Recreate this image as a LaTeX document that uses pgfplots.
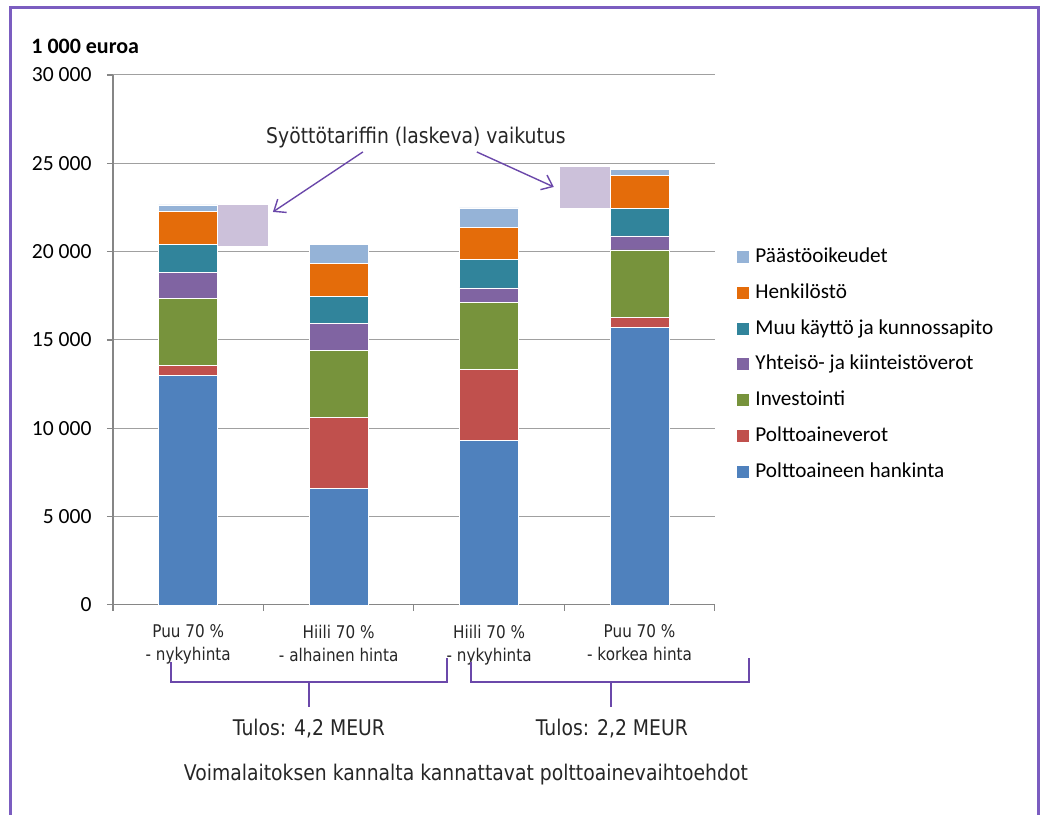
\documentclass[border=0pt]{standalone}
\usepackage{pgfplots}
\pgfplotsset{compat=1.18}
\usepackage{pgfplotstable}
\usepackage{fontspec}
\setmainfont{Carlito}
\newfontfamily\tah[FakeStretch=0.87]{DejaVu Sans}
\usetikzlibrary{arrows.meta}
\definecolor{cHank}{HTML}{4F81BD}
\definecolor{cVerot}{HTML}{C0504D}
\definecolor{cInv}{HTML}{77933C}
\definecolor{cYht}{HTML}{8064A2}
\definecolor{cMuu}{HTML}{31849B}
\definecolor{cHenk}{HTML}{E46C0A}
\definecolor{cPaa}{HTML}{95B3D7}
\definecolor{cBox}{HTML}{CCC1DA}
\definecolor{cAnn}{HTML}{6B48AA}
\definecolor{cFrame}{HTML}{7B5DC0}
\definecolor{cAxis}{HTML}{868686}
\definecolor{cGrid}{HTML}{A0A0A0}

\pgfplotstableread{
x hank verot inv yht muu henk paasto
0 12990 550 3820 1470 1590 1870 350
1 6600 4020 3800 1500 1560 1860 1060
2 9320 4030 3790 810 1590 1840 1100
3 15710 560 3830 790 1570 1840 360
}\costs

\tikzset{catlab/.style={anchor=north, align=center, inner sep=0pt, yshift=-9.75pt, font=\tah\fontsize{8.75}{11.5}\selectfont, text=black!85}}

\begin{document}
\begin{tikzpicture}
\begin{scope}[x=0.5pt,y=-0.5pt]
\path[use as bounding box] (0,0) rectangle (1040,802);
\end{scope}
\begin{axis}[
  at={(56.5pt,-302.5pt)}, anchor=south west,
  width=301pt, height=265pt, scale only axis,
  xmin=-0.5, xmax=3.5, ymin=0, ymax=30000,
  clip=false,
  ybar stacked, bar width=0.392,
  every axis plot post/.append style={legend image code/.code={\fill[##1,draw=none] (0pt,-3pt) rectangle (6pt,3pt); \path (9pt,0pt);}},
  axis x line*=bottom, axis y line*=left,
  axis line style={cAxis, line width=0.6pt, -},
  tick style={cAxis, line width=0.6pt},
  major tick length=3pt, tick align=outside,
  scaled y ticks=false,
  xtick={-0.5,0.5,1.5,2.5,3.5}, xticklabels={},
  ytick={0,5000,10000,15000,20000,25000,30000},
  yticklabels={0,5 000,10 000,15 000,20 000,25 000,30 000},
  yticklabel style={font=\fontsize{10.8}{13}\selectfont, anchor=east, inner sep=0pt, xshift=-7.5pt},
  ymajorgrids, grid style={cGrid, line width=0.5pt},
  reverse legend,
  legend cell align=left,
  legend style={at={(1.0365,0.677)}, anchor=north west, draw=none, fill=none,
    inner sep=0pt, row sep=7.4pt, font=\fontsize{10.6}{13}\selectfont,
    nodes={inner sep=0pt, text height=8pt, text depth=2.5pt}},
]
\addplot[fill=cHank, draw=white, line width=0.3pt] table[x=x,y=hank]{\costs};
\addlegendentry{Polttoaineen hankinta}
\addplot[fill=cVerot, draw=white, line width=0.3pt] table[x=x,y=verot]{\costs};
\addlegendentry{Polttoaineverot}
\addplot[fill=cInv, draw=white, line width=0.3pt] table[x=x,y=inv]{\costs};
\addlegendentry{Investointi}
\addplot[fill=cYht, draw=white, line width=0.3pt] table[x=x,y=yht]{\costs};
\addlegendentry{Yhteisö- ja kiinteistöverot}
\addplot[fill=cMuu, draw=white, line width=0.3pt] table[x=x,y=muu]{\costs};
\addlegendentry{Muu käyttö ja kunnossapito}
\addplot[fill=cHenk, draw=white, line width=0.3pt] table[x=x,y=henk]{\costs};
\addlegendentry{Henkilöstö}
\addplot[fill=cPaa, draw=white, line width=0.3pt] table[x=x,y=paasto]{\costs};
\addlegendentry{Päästöoikeudet}
\node[catlab] at (axis cs:0,0) {Puu 70 \%\\- nykyhinta};
\node[catlab] at (axis cs:1,0) {Hiili 70 \%\\- alhainen hinta};
\node[catlab] at (axis cs:2,0) {Hiili 70 \%\\- nykyhinta};
\node[catlab] at (axis cs:3,0) {Puu 70 \%\\- korkea hinta};
\end{axis}
\begin{axis}[
  at={(56.5pt,-302.5pt)}, anchor=south west,
  width=301pt, height=265pt, scale only axis,
  xmin=-0.5, xmax=3.5, ymin=0, ymax=30000, hide axis]
\addplot[fill=cBox, draw=none] coordinates {(0.196,20340) (0.53,20340) (0.53,22640) (0.196,22640)} -- cycle;
\addplot[fill=cBox, draw=none] coordinates {(2.47,22470) (2.804,22470) (2.804,24770) (2.47,24770)} -- cycle;
\end{axis}
\begin{scope}[x=0.5pt,y=-0.5pt]
\node[anchor=base west, inner sep=0pt, font=\bfseries\fontsize{11}{13}\selectfont] at (31,54) {1 000 euroa};
\node[anchor=base, inner sep=0pt, font=\tah\fontsize{10.8}{13}\selectfont, text=black!85] at (416,144) {Syöttötariffin (laskeva) vaikutus};
\draw[cAnn, line width=0.7pt, -{Straight Barb[length=5pt,width=8pt]}] (363,152) -- (273,212);
\draw[cAnn, line width=0.7pt, -{Straight Barb[length=5pt,width=8pt]}] (477,152) -- (554,187);
\draw[cAnn, line width=0.75pt] (171,662) -- (171,682) -- (447,682) -- (447,658);
\draw[cAnn, line width=0.75pt] (309,682) -- (309,707);
\draw[cAnn, line width=0.75pt] (471,662) -- (471,682) -- (749,682) -- (749,658);
\draw[cAnn, line width=0.75pt] (611,682) -- (611,707);
\node[anchor=base, inner sep=0pt, font=\tah\fontsize{10.8}{13}\selectfont, text=black!85] at (309,736) {Tulos: 4,2 MEUR};
\node[anchor=base, inner sep=0pt, font=\tah\fontsize{10.8}{13}\selectfont, text=black!85] at (612,736) {Tulos: 2,2 MEUR};
\node[anchor=base, inner sep=0pt, font=\tah\fontsize{10.8}{13}\selectfont, text=black!85] at (466,781) {Voimalaitoksen kannalta kannattavat polttoainevaihtoehdot};
\draw[cFrame, line width=1.3pt] (10.5,815) -- (10.5,7.5) -- (1039,7.5) -- (1039,815);
\end{scope}
\end{tikzpicture}
\end{document}
